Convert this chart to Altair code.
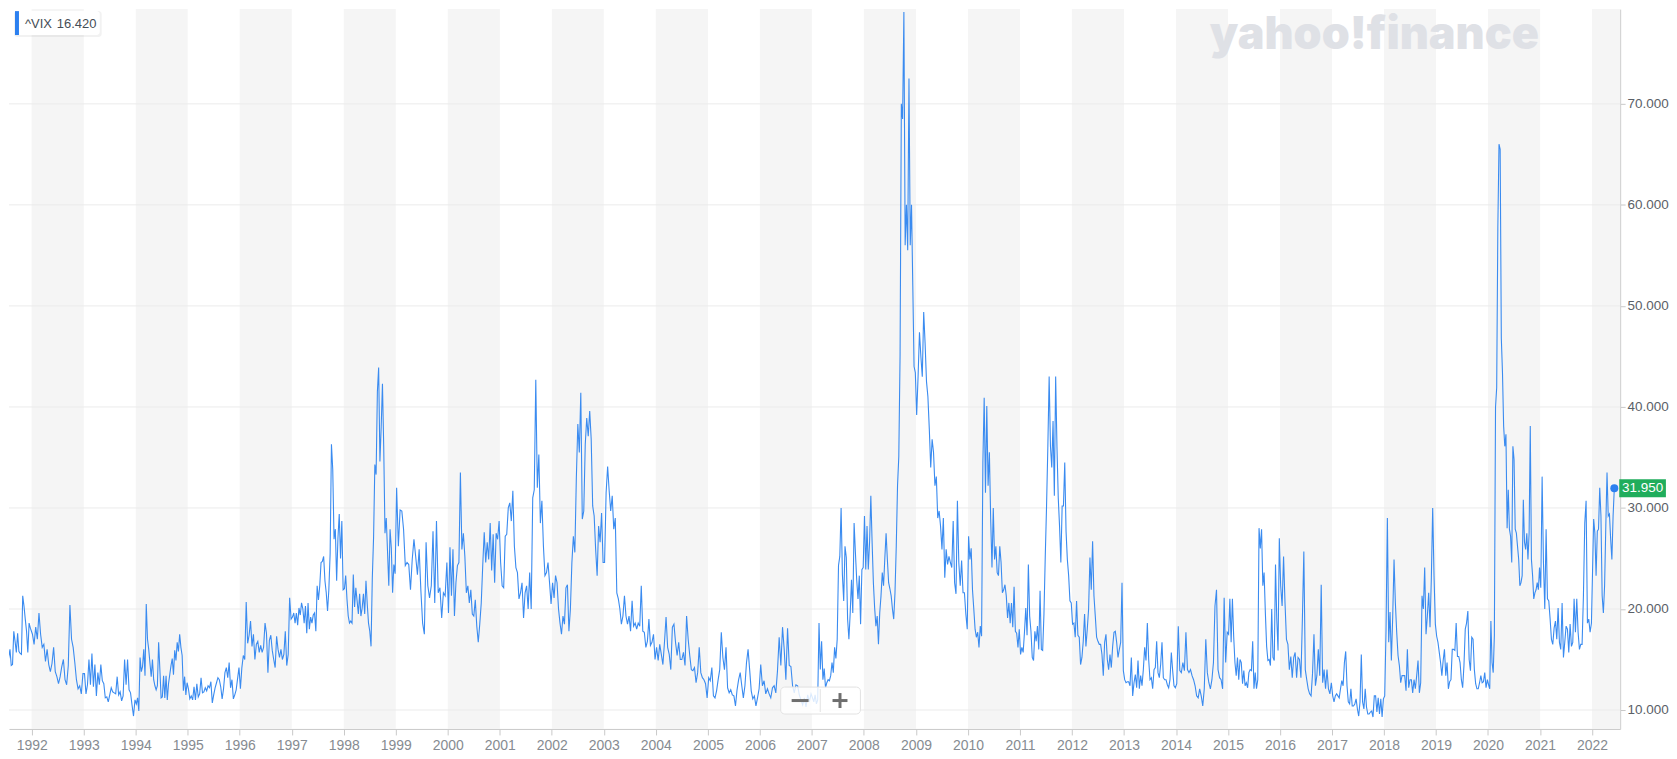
import altair as alt
import pandas as pd

# ---------------- data (weekly-ish VIX closes) ----------------
v1991 = [18.3, 15.5, 15.3, 15.2, 16.0, 14.4, 14.5, 17.8, 16.8, 15.7, 17.6, 15.8, 15.6, 15.5, 21.3, 20.3, 19.0, 17.8, 15.7, 18.6, 18.1]
v1992 = [17.5, 16.5, 18.2, 17.0, 19.6, 17.5, 16.2, 16.5, 14.8, 16.0, 14.5, 13.8, 14.6, 16.2, 13.8, 13.3, 12.6, 13.3, 14.3, 15.0, 13.0, 12.5, 14.4, 20.4, 17.0, 16.2, 14.7, 13.0, 12.1, 12.4, 11.6, 13.6]
v1993 = [13.6, 11.6, 12.5, 15.0, 12.5, 15.6, 12.3, 14.5, 11.4, 13.7, 12.5, 14.5, 12.9, 12.6, 11.2, 11.3, 10.8, 11.5, 12.2, 11.8, 11.7, 11.6, 13.3, 11.5, 11.8, 10.9, 11.4, 15.0, 12.5, 15.0, 12.0, 11.7, 10.5, 9.4, 11.0]
v1994 = [10.6, 11.2, 9.9, 15.2, 13.8, 14.3, 16.0, 13.4, 20.5, 17.0, 16.0, 14.6, 13.3, 15.0, 13.0, 12.4, 12.0, 12.4, 16.7, 14.0, 11.2, 11.3, 13.4, 11.2, 13.4, 11.0, 12.6, 13.5, 14.4, 15.1, 13.5, 15.9, 14.9, 16.7, 15.8, 17.5, 16.2, 15.4, 11.9, 13.3, 11.5, 12.7]
v1995 = [12.1, 11.1, 11.4, 11.0, 12.3, 11.0, 12.6, 11.3, 11.6, 13.2, 11.7, 11.8, 12.2, 11.9, 12.4, 12.2, 12.8, 10.7, 11.5, 12.2, 12.7, 13.2, 13.0, 12.3, 11.1, 12.1, 13.7, 14.2, 13.2, 14.7, 12.2, 13.0, 11.1, 11.5, 12.0, 13.1, 14.2]
v1996 = [12.1, 14.2, 15.4, 15.0, 20.7, 16.6, 17.4, 18.8, 16.3, 17.5, 15.0, 16.5, 16.8, 15.7, 16.4, 15.7, 16.2, 18.6, 17.6, 13.7, 16.9, 17.4, 15.9, 15.0, 14.2, 17.3, 16.0, 15.2, 16.0, 15.0, 15.5, 17.8, 14.4, 15.5, 21.1, 19.0]
v1997 = [19.2, 19.6, 18.6, 19.6, 18.4, 20.1, 19.4, 20.6, 20.0, 18.6, 20.3, 17.6, 20.6, 18.0, 19.2, 18.6, 19.4, 19.6, 17.8, 22.3, 20.9, 22.3, 24.6, 24.7, 25.2, 22.8, 21.6, 19.8, 21.9, 25.5, 36.3, 33.8, 26.9, 27.9, 22.8, 27.0, 29.4, 25.0, 28.7, 21.9]
v1998 = [22.0, 23.3, 21.0, 19.3, 18.6, 18.8, 18.6, 23.4, 20.2, 22.1, 20.8, 19.5, 21.5, 19.3, 20.1, 21.5, 19.5, 22.8, 20.5, 18.6, 17.8, 16.3, 23.1, 27.1, 34.3, 33.3, 41.5, 43.9, 34.6, 38.0, 42.3, 36.0, 27.5, 29.0, 25.7, 22.3, 27.9, 26.0, 21.6, 24.4, 23.5]
v1999 = [32.0, 26.2, 29.8, 29.7, 27.9, 24.3, 24.6, 24.4, 21.9, 24.9, 26.9, 25.2, 23.4, 25.9, 21.8, 18.6, 17.5, 26.6, 22.3, 21.1, 22.3, 27.7, 20.6, 28.7, 21.6, 22.1, 19.1, 21.6, 21.3, 24.6]
v2000 = [19.6, 26.1, 21.3, 25.9, 19.3, 22.6, 24.3, 24.6, 33.5, 25.9, 27.5, 25.2, 21.6, 22.3, 20.6, 21.9, 19.5, 19.3, 20.9, 18.3, 16.7, 18.5, 20.6, 24.3, 27.6, 24.6, 26.6, 24.9, 28.5, 23.8, 27.4, 22.6, 27.5, 26.9, 28.7]
v2001 = [24.6, 22.3, 22.1, 27.2, 27.4, 30.0, 30.5, 28.7, 31.7, 26.2, 24.1, 23.6, 21.0, 21.6, 22.6, 19.1, 21.6, 22.3, 20.0, 23.6, 20.0, 31.0, 31.8, 42.7, 32.0, 35.3, 28.5, 30.7, 26.2, 23.3, 23.6, 24.6, 22.6, 20.5]
v2002 = [22.6, 21.1, 23.3, 22.6, 20.0, 18.6, 17.5, 19.3, 18.5, 22.1, 22.4, 17.8, 20.0, 24.6, 27.2, 25.6, 33.0, 38.3, 35.5, 41.4, 28.9, 29.7, 36.3, 38.9, 37.1, 39.6, 36.8, 30.2, 29.2, 25.9, 23.3, 28.2, 26.6, 29.5, 24.6]
v2003 = [24.6, 31.5, 34.1, 31.7, 29.7, 31.2, 27.9, 29.0, 21.6, 21.0, 20.0, 18.5, 19.3, 21.3, 19.3, 18.5, 19.3, 17.8, 20.8, 18.3, 18.6, 18.0, 18.6, 18.3, 22.3, 17.8, 17.7, 16.2, 16.8, 19.0, 16.4, 16.7, 17.5, 15.0]
v2004 = [16.2, 14.9, 16.5, 15.5, 14.5, 16.7, 19.2, 16.2, 15.5, 14.0, 18.2, 18.5, 16.7, 15.4, 16.7, 15.0, 15.0, 15.7, 14.4, 19.3, 17.0, 15.4, 14.0, 13.9, 14.2, 12.7, 13.7, 16.2, 13.7, 13.2, 13.0, 12.6, 11.2]
v2005 = [13.2, 12.9, 14.2, 11.4, 11.2, 11.9, 13.0, 14.0, 17.7, 15.2, 14.0, 16.2, 12.2, 11.7, 12.0, 11.5, 11.4, 10.4, 12.0, 13.0, 13.7, 12.4, 11.2, 12.4, 14.7, 16.0, 14.0, 11.9, 11.1, 11.4, 10.4, 11.2, 12.1]
v2006 = [14.5, 12.4, 12.9, 11.6, 12.1, 11.6, 11.2, 12.2, 12.4, 11.7, 13.9, 17.2, 14.4, 18.2, 16.0, 13.0, 18.1, 14.4, 14.3, 12.4, 11.7, 12.5, 12.4, 11.5, 11.0, 10.5, 11.2, 10.3, 11.5, 10.8, 11.6]
v2007 = [11.2, 10.8, 11.5, 10.6, 11.0, 18.6, 14.0, 16.8, 13.0, 14.1, 12.2, 12.7, 13.0, 12.9, 13.4, 14.7, 13.7, 16.2, 15.1, 17.0, 24.3, 25.2, 30.0, 23.4, 20.8, 26.2, 25.1, 19.0, 17.0, 19.6, 22.9, 19.6, 28.5, 25.6, 22.9, 21.0, 23.3, 18.5, 23.9, 24.1]
v2008 = [29.2, 23.9, 28.2, 23.9, 26.6, 31.2, 26.6, 22.6, 20.1, 18.3, 19.3, 16.5, 19.6, 21.3, 23.6, 22.3, 25.0, 27.5, 24.9, 22.6, 22.0, 21.3, 20.0, 19.0, 21.6, 26.2, 32.2, 35.1, 45.1, 70.0, 68.5, 79.1, 56.0, 60.0, 55.5, 72.5, 56.0, 60.0, 52.0, 44.0, 43.4]
v2009 = [39.2, 43.0, 47.4, 45.0, 43.0, 49.4, 46.3, 42.5, 41.0, 37.8, 34.0, 36.8, 35.5, 32.2, 33.1, 29.0, 29.7, 28.2, 25.9, 29.0, 23.1, 25.9, 24.4, 25.2, 24.6, 24.1, 28.7, 22.6, 21.5, 30.7, 24.6, 22.3, 24.8, 21.6, 21.6, 19.5, 18.0]
v2010 = [27.2, 24.9, 26.0, 21.9, 20.0, 18.0, 17.2, 17.7, 16.2, 18.3, 17.3, 34.5, 40.9, 31.5, 40.1, 32.2, 35.5, 28.9, 24.1, 30.0, 24.9, 26.2, 23.6, 23.3, 26.2, 24.6, 21.6, 21.9, 22.4, 21.3, 19.1, 20.6, 18.6, 20.6, 18.2, 22.2, 17.8, 17.6, 16.2, 18.0]
v2011 = [15.5, 16.2, 15.7, 17.7, 20.1, 17.4, 24.4, 19.3, 17.8, 15.2, 14.9, 17.8, 16.8, 18.3, 16.0, 21.8, 16.0, 15.9, 19.5, 25.2, 30.2, 36.1, 43.0, 36.1, 34.0, 38.6, 31.2, 43.0, 36.1, 31.0, 28.2, 24.6, 30.2, 30.2, 34.5, 27.7, 24.9, 23.3, 20.8, 20.6]
v2012 = [18.5, 18.6, 17.2, 20.8, 17.4, 17.2, 14.5, 15.2, 16.8, 19.5, 16.3, 18.0, 20.0, 25.1, 21.9, 26.7, 21.3, 19.3, 17.2, 16.8, 16.5, 16.5, 15.5, 13.4, 16.7, 17.5, 15.0, 14.0, 15.5, 14.2, 16.3, 17.7, 17.8, 16.7, 15.2, 16.0, 16.7, 22.6, 13.9]
v2013 = [13.0, 12.7, 12.8, 12.8, 12.4, 15.2, 11.4, 12.7, 13.5, 12.2, 14.9, 12.1, 13.4, 12.4, 14.0, 16.2, 14.9, 18.6, 15.0, 13.0, 13.2, 12.1, 14.0, 14.2, 16.8, 13.7, 13.2, 14.5, 16.7, 13.2, 13.0, 13.0, 12.5, 12.2, 13.0, 15.7, 13.9, 12.4, 12.2]
v2014 = [12.6, 18.3, 13.9, 13.7, 14.7, 13.9, 17.7, 14.0, 13.7, 14.0, 13.4, 13.0, 12.4, 11.4, 11.2, 12.1, 11.4, 10.4, 12.1, 17.0, 13.7, 12.7, 12.1, 13.0, 14.7, 20.3, 21.9, 14.0, 13.2, 13.0, 12.1, 21.1, 14.7, 17.7]
v2015 = [17.5, 21.0, 16.7, 21.0, 17.3, 14.7, 13.4, 15.2, 13.0, 15.0, 14.7, 12.6, 13.9, 12.4, 12.7, 12.2, 13.7, 14.0, 13.9, 16.8, 12.1, 13.7, 12.1, 13.0, 28.0, 26.0, 27.9, 22.3, 23.6, 19.6, 16.3, 14.9, 15.0, 14.4, 20.0, 15.2, 14.9, 24.4, 19.0, 15.9, 27.0]
v2016 = [22.3, 20.3, 25.2, 20.6, 17.0, 16.5, 14.0, 15.3, 13.2, 15.2, 15.7, 13.2, 15.2, 15.0, 13.2, 19.0, 25.7, 14.0, 13.0, 12.1, 11.6, 11.4, 13.6, 17.5, 12.4, 13.4, 16.0, 13.4, 22.4, 12.7, 14.0, 12.1, 14.0, 12.1, 11.6, 12.7]
v2017 = [11.4, 10.8, 11.4, 11.6, 11.4, 11.2, 12.1, 12.9, 12.4, 14.7, 15.8, 12.4, 10.8, 10.6, 12.1, 10.4, 10.4, 10.6, 11.1, 10.1, 9.4, 10.8, 15.5, 10.8, 10.1, 12.1, 10.3, 9.6, 9.6, 9.8, 9.9, 9.3, 11.4, 11.4, 9.8, 11.2, 9.6, 11.1, 9.3, 11.1]
v2018 = [11.4, 18.0, 29.0, 16.7, 19.7, 14.9, 19.2, 24.9, 20.6, 17.7, 15.4, 14.4, 12.7, 13.4, 13.4, 13.4, 11.9, 16.0, 12.2, 13.0, 13.0, 11.7, 13.0, 12.1, 13.4, 14.9, 11.7, 12.7, 21.3, 20.0, 24.1, 17.5, 19.3, 21.6, 18.2, 23.1, 30.0, 23.3, 18.5]
v2019 = [17.3, 16.7, 15.7, 14.7, 13.4, 14.9, 16.0, 13.4, 14.7, 12.1, 12.8, 13.0, 16.0, 16.0, 15.9, 18.6, 15.3, 15.3, 14.7, 13.0, 12.2, 14.4, 18.0, 18.6, 19.8, 15.0, 13.9, 17.2, 17.0, 14.0, 12.6, 12.1, 12.1, 12.7, 13.4, 12.7, 12.8, 13.7, 12.2, 13.0]
v2020 = [12.5, 12.1, 18.8, 14.7, 13.7, 17.4, 40.0, 41.9, 57.8, 66.0, 65.5, 46.8, 43.4, 38.1, 36.1, 37.3, 28.0, 31.8, 27.9, 27.2, 24.6, 36.1, 34.8, 27.9, 27.5, 26.2, 24.9, 22.3, 22.6, 23.3, 30.8, 26.6, 25.9, 27.5, 24.9, 27.5, 38.1, 24.9, 23.3, 21.0, 21.6, 21.9, 22.6, 21.9, 24.1]
v2021 = [22.1, 33.1, 24.6, 20.0, 27.9, 21.0, 20.8, 19.0, 17.0, 16.5, 18.1, 18.8, 17.0, 20.1, 16.7, 16.0, 20.6, 15.2, 16.7, 18.3, 18.0, 15.7, 18.5, 16.3, 16.7, 21.0, 17.7, 21.0, 17.7, 16.0, 16.5, 16.5, 21.3, 28.5, 30.7, 18.6, 19.0, 17.7, 18.6]
v2022 = [28.9, 27.5, 23.3, 27.7, 27.9, 32.0, 29.2, 21.3, 19.6, 22.3, 28.2, 33.5, 29.2, 29.4, 26.9, 24.9, 29.2, 31.95]

first_date = "1991-06-27"
last_year_start = "2022-01-12"
last_date = "2022-06-06"

y_ticks = [10, 20, 30, 40, 50, 60, 70]
year_ticks = list(range(1992, 2023))
shaded_years = list(range(1992, 2023, 2))
legend_symbol = "^VIX"
legend_value = "16.420"
watermark = "yahoo!finance"

yearly = [v1991, v1992, v1993, v1994, v1995, v1996, v1997, v1998, v1999, v2000,
          v2001, v2002, v2003, v2004, v2005, v2006, v2007, v2008, v2009, v2010,
          v2011, v2012, v2013, v2014, v2015, v2016, v2017, v2018, v2019, v2020,
          v2021, v2022]

# ---------------- build table ----------------
rows = []
for k, vals in enumerate(yearly):
    year = 1991 + k
    n = len(vals)
    if year == 1991:
        s = pd.Timestamp(first_date)
        e = pd.Timestamp("1992-01-01")
        step = (e - s) / n
        dates = [s + i * step for i in range(n)]
    elif year == 2022:
        s = pd.Timestamp(last_year_start)
        e = pd.Timestamp(last_date)
        step = (e - s) / (n - 1)
        dates = [s + i * step for i in range(n)]
    else:
        s = pd.Timestamp(f"{year}-01-01")
        e = pd.Timestamp(f"{year + 1}-01-01")
        step = (e - s) / n
        dates = [s + (i + 0.5) * step for i in range(n)]
    for d, v in zip(dates, vals):
        rows.append({"date": d, "value": v})
df = pd.DataFrame(rows)
last_df = df.tail(1)

band_df = pd.DataFrame({
    "start": [pd.Timestamp(f"{y}-01-01") for y in shaded_years],
    "end": [pd.Timestamp(f"{y + 1}-01-01") for y in shaded_years],
})
grid_df = pd.DataFrame({"v": y_ticks})
one = pd.DataFrame({"k": [0]})

W, H = 1616, 722
FONT = "Liberation Sans"
LINE = "#3a8bf0"

x_scale = alt.Scale(domain=[alt.DateTime(year=1991, month=7, date=26),
                            alt.DateTime(year=2022, month=7, date=17)])
y_scale = alt.Scale(domain=[8.125, 79.375], nice=False, zero=False)

x_axis = alt.Axis(values=[alt.DateTime(year=y, month=1, date=1) for y in year_ticks],
                  format="%Y", title=None, labelFont=FONT, labelFontSize=14,
                  labelColor="#868b91", tickColor="#c9c9c9", tickSize=6,
                  domainColor="#c9c9c9", labelPadding=4, grid=False,
                  labelOverlap=False)
y_axis = alt.Axis(values=y_ticks, format=".3f", orient="right", title=None,
                  labelFont=FONT, labelFontSize=13.5, labelColor="#5a6067",
                  tickColor="#c9c9c9", tickSize=5, domainColor="#c9c9c9",
                  labelPadding=2, grid=False)

X_date = alt.X("date:T", scale=x_scale, axis=x_axis)
Y_val = alt.Y("value:Q", scale=y_scale, axis=y_axis)

bands = alt.Chart(band_df).mark_rect(color="#f5f5f5", clip=True).encode(
    x=alt.X("start:T", scale=x_scale, axis=x_axis),
    x2="end:T",
)

grid = alt.Chart(grid_df).mark_rule(color="#ebebeb", strokeWidth=1).encode(
    y=alt.Y("v:Q", scale=y_scale, axis=y_axis),
)

wm = alt.Chart(one).mark_text(font="Inter", fontSize=45, fontWeight=900,
                              color="#dfe1e6", align="center",
                              baseline="alphabetic").encode(
    x=alt.value(1369.5), y=alt.value(39.5), text=alt.value(watermark))

line = alt.Chart(df).mark_line(color=LINE, strokeWidth=1.1, clip=True).encode(
    x=X_date, y=Y_val,
)

# zoom control
ctrl_box = alt.Chart(one).mark_rect(fill="white", fillOpacity=0.82, stroke="#e2e2e2",
                                    strokeWidth=1, cornerRadius=4).encode(
    x=alt.value(774), x2=alt.value(854), y=alt.value(680), y2=alt.value(707))
ctrl_div = alt.Chart(one).mark_rule(color="#e2e2e2", strokeWidth=1).encode(
    x=alt.value(813.7), y=alt.value(682), y2=alt.value(705))
ctrl_minus = alt.Chart(one).mark_rule(color="#6e6e6e", strokeWidth=3).encode(
    x=alt.value(785), x2=alt.value(802), y=alt.value(693.5))
ctrl_plus_h = alt.Chart(one).mark_rule(color="#6e6e6e", strokeWidth=3).encode(
    x=alt.value(826), x2=alt.value(841), y=alt.value(693.5))
ctrl_plus_v = alt.Chart(one).mark_rule(color="#6e6e6e", strokeWidth=3).encode(
    x=alt.value(833.5), y=alt.value(686), y2=alt.value(701))

# last value marker + label
dot = alt.Chart(last_df).mark_circle(size=64, color="#2c80f0", opacity=1).encode(
    x=X_date, y=Y_val)
tag = alt.Chart(last_df).mark_point(shape="M-2.6,-1L2.6,-1L2.6,1L-2.6,1Z", size=324,
                                    filled=True, color="#20ad5c", opacity=1).encode(
    x=alt.value(1638.5), y=Y_val)
tag_text = alt.Chart(last_df).mark_text(font=FONT, fontSize=13.5, color="white",
                                        align="center", baseline="middle").encode(
    x=alt.value(1638.5), y=Y_val,
    text=alt.Text("value:Q", format=".3f"))

# legend box
leg_shadow = alt.Chart(one).mark_rect(fill="#000000", fillOpacity=0.05, cornerRadius=3).encode(
    x=alt.value(5), x2=alt.value(93), y=alt.value(2), y2=alt.value(28))
leg_box = alt.Chart(one).mark_rect(fill="white", cornerRadius=3).encode(
    x=alt.value(6), x2=alt.value(91), y=alt.value(2), y2=alt.value(26))
leg_bar = alt.Chart(one).mark_rect(fill="#2c80f0").encode(
    x=alt.value(6), x2=alt.value(10), y=alt.value(2), y2=alt.value(26))
leg_t1 = alt.Chart(one).mark_text(font=FONT, fontSize=13, color="#464e56",
                                  align="left", baseline="alphabetic").encode(
    x=alt.value(16), y=alt.value(18.7), text=alt.value(legend_symbol))
leg_t2 = alt.Chart(one).mark_text(font=FONT, fontSize=13, color="#464e56",
                                  align="left", baseline="alphabetic").encode(
    x=alt.value(48), y=alt.value(18.7), text=alt.value(legend_value))

chart = alt.layer(
    bands, grid, wm, line,
    ctrl_box, ctrl_div, ctrl_minus, ctrl_plus_h, ctrl_plus_v,
    dot, tag, tag_text,
    leg_shadow, leg_box, leg_bar, leg_t1, leg_t2,
).properties(
    width=W, height=H, padding=0, background="white"
).configure_view(stroke=None)

chart.save("out.html", embed_options={"renderer": "svg", "actions": False})
